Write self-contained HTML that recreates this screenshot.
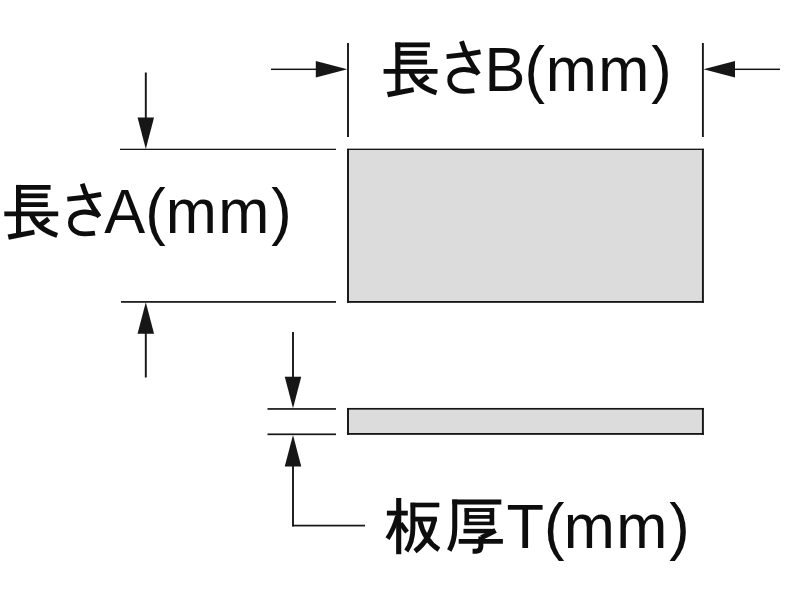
<!DOCTYPE html>
<html><head><meta charset="utf-8"><title>Plate dimensions</title>
<style>
html,body{margin:0;padding:0;background:#fff;}
body{width:800px;height:600px;overflow:hidden;font-family:"Liberation Sans",sans-serif;}
svg{display:block;}
</style></head><body>
<svg width="800" height="600" viewBox="0 0 800 600">
<defs><filter id="soft" x="0" y="0" width="800" height="600" filterUnits="userSpaceOnUse"><feGaussianBlur stdDeviation="0.38"/></filter></defs>
<rect width="800" height="600" fill="#fff"/>
<g filter="url(#soft)">
<rect x="347" y="148.5" width="357" height="154.4" fill="#dcdcdc"/>
<rect x="347" y="408" width="357" height="27" fill="#dcdcdc"/>
<g fill="#161616">
<rect x="347.00" y="148.70" width="356.90" height="1.30"/>
<rect x="347.00" y="301.00" width="356.90" height="1.80"/>
<rect x="347.05" y="148.90" width="1.90" height="153.90"/>
<rect x="701.95" y="148.90" width="1.90" height="153.90"/>
<rect x="347.00" y="407.95" width="356.90" height="1.70"/>
<rect x="347.00" y="433.00" width="356.90" height="1.80"/>
<rect x="347.05" y="408.00" width="1.90" height="26.80"/>
<rect x="701.95" y="408.00" width="1.90" height="26.80"/>
<rect x="347.05" y="43.00" width="1.90" height="94.00"/>
<rect x="701.95" y="43.00" width="1.90" height="94.00"/>
<rect x="271.00" y="68.55" width="47.00" height="1.50"/>
<polygon points="347.30,69.20 315.80,60.95 315.80,77.45"/>
<rect x="733.00" y="68.55" width="47.00" height="1.50"/>
<polygon points="703.50,69.20 735.00,60.95 735.00,77.45"/>
<rect x="120.00" y="148.70" width="216.00" height="1.30"/>
<rect x="121.00" y="301.05" width="215.00" height="1.70"/>
<rect x="144.85" y="72.50" width="1.90" height="46.50"/>
<polygon points="145.80,149.00 137.55,117.50 154.05,117.50"/>
<rect x="144.85" y="333.00" width="1.90" height="44.50"/>
<polygon points="145.80,302.30 137.55,333.80 154.05,333.80"/>
<rect x="267.50" y="408.10" width="68.50" height="1.70"/>
<rect x="267.50" y="433.45" width="68.50" height="1.70"/>
<rect x="292.05" y="332.00" width="1.90" height="46.00"/>
<polygon points="293.00,408.20 284.75,376.70 301.25,376.70"/>
<polygon points="293.00,434.90 284.75,466.40 301.25,466.40"/>
<rect x="292.05" y="465.00" width="1.90" height="61.40"/>
<rect x="292.10" y="524.75" width="72.90" height="1.70"/>
</g>
<g fill="none" stroke="#0c0c0c" stroke-linecap="butt">
<g id="lbl"><path d="M397.85,42.4 V91.5" stroke-width="5.10" />
<path d="M395.3,44.8 H429.9" stroke-width="4.80" />
<path d="M398,53.3 H426.9" stroke-width="4.80" />
<path d="M398,62.1 H427.1" stroke-width="4.80" />
<path d="M383.6,71.3 H437.5" stroke-width="4.80" />
<polygon points="386.9,92.1 413.3,87.3 414.1,92.0 388.2,97.2" stroke="none" fill="#0c0c0c"/>
<path d="M428.0,76.2 L418.0,83.7" stroke-width="5.00" />
<path d="M410.9,72.5 Q416,86 436.5,92.9" stroke-width="5.00" /><path d="M446.6,56.7 Q463,55.5 480.5,51.9" stroke-width="4.70" />
<path d="M461.5,41.2 Q466.5,58 478.6,74.2" stroke-width="4.90" />
<path d="M477.5,72.6 C470,69.4 462,69.2 458,70.4 C452,72.2 449.7,76 449.7,80 C449.7,87 456,91.4 464,91.4 C468,91.4 471,91.1 474.3,90.6" stroke-width="4.80" /></g>
<g transform="translate(-379.3 142.5)"><path d="M397.85,42.4 V91.5" stroke-width="5.10" />
<path d="M395.3,44.8 H429.9" stroke-width="4.80" />
<path d="M398,53.3 H426.9" stroke-width="4.80" />
<path d="M398,62.1 H427.1" stroke-width="4.80" />
<path d="M383.6,71.3 H437.5" stroke-width="4.80" />
<polygon points="386.9,92.1 413.3,87.3 414.1,92.0 388.2,97.2" stroke="none" fill="#0c0c0c"/>
<path d="M428.0,76.2 L418.0,83.7" stroke-width="5.00" />
<path d="M410.9,72.5 Q416,86 436.5,92.9" stroke-width="5.00" /><path d="M446.6,56.7 Q463,55.5 480.5,51.9" stroke-width="4.70" />
<path d="M461.5,41.2 Q466.5,58 478.6,74.2" stroke-width="4.90" />
<path d="M477.5,72.6 C470,69.4 462,69.2 458,70.4 C452,72.2 449.7,76 449.7,80 C449.7,87 456,91.4 464,91.4 C468,91.4 471,91.1 474.3,90.6" stroke-width="4.80" /></g>
<path d="M398.7,498.0 V554.2" stroke-width="5.10" />
<path d="M386.9,513.1 H407.8" stroke-width="4.80" />
<path d="M397.5,516 Q394,529 387.5,538.6" stroke-width="4.80" />
<path d="M400.5,523.3 L407.0,532.2" stroke-width="4.80" />
<path d="M410.6,505 H439.3" stroke-width="4.60" />
<path d="M412.9,502.8 V528 Q412.9,542 406.3,551.0" stroke-width="4.90" />
<path d="M415,519.1 H436.8" stroke-width="4.80" />
<path d="M434.7,517.5 Q431,539 415.0,551.3" stroke-width="5.00" />
<path d="M419.9,521 Q424,540 438.9,549.7" stroke-width="5.00" />
<path d="M452.3,502 H501.3" stroke-width="4.80" />
<path d="M454.75,499.6 V528 Q454.75,541 449.3,550.4" stroke-width="5.00" />
<path d="M466.8,508.2 V525.1" stroke-width="4.60" />
<path d="M491.9,508.2 V525.1" stroke-width="4.60" />
<path d="M464.6,510.0 H494.1" stroke-width="3.80" />
<path d="M466,516.9 H492" stroke-width="3.70" />
<path d="M464.6,523.4 H494.1" stroke-width="3.60" />
<path d="M463.5,531.1 H494" stroke-width="4.50" />
<path d="M495.6,530.4 L481.3,537.7" stroke-width="5.00" />
<path d="M480.85,536.5 V546.3 Q480.85,551.0 476.5,551.2 L472.6,551.2" stroke-width="5.00" />
<path d="M458.7,541.3 H502.9" stroke-width="4.70" />
</g>
<g fill="#0a0a0a" font-family="'Liberation Sans', sans-serif" font-size="62.60px">
<text transform="scale(0.9800 1)" x="494.27 535.29 557.01 610.58 664.62" y="91.20">B(mm)</text>
<text transform="scale(0.9800 1)" x="106.31 148.25 169.25 222.82 276.86" y="233.50">A(mm)</text>
<text transform="scale(0.9800 1)" x="516.88 555.06 575.38 628.95 682.98" y="548.10">T(mm)</text>
</g>
</g>
</svg>
</body></html>
